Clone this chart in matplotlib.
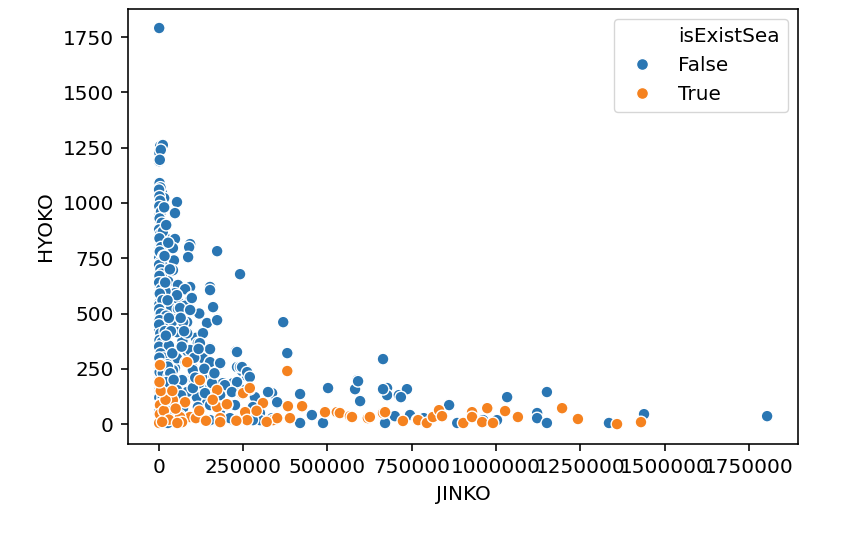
import matplotlib
matplotlib.use("Agg")
import matplotlib.pyplot as plt
from matplotlib.lines import Line2D
import numpy as np

# population (JINKO) / elevation (HYOKO), isExistSea == False
jinko_false = [
    1200, 1500, 4000, 12000, 2000, 6000, 1000, 3000, 2500, 9500, 5000, 16000, 54000, 3500, 8000,
    48000, 1000, 1000, 6000, 3500, 2000, 18000, 48000, 6000, 11000, 93000, 90000, 173000, 42000, 2000,
    8000, 87000, 1000, 3000, 45000, 12000, 42000, 1500, 241000, 18000, 5000, 28000, 57000, 3500, 93000,
    152000, 78000, 12000, 48000, 1000, 98000, 25000, 93000, 6000, 60000, 1000, 78000, 161000, 35000, 4000,
    57000, 10000, 1000, 120000, 173000, 42000, 3000, 84000, 369000, 143000, 6000, 48000, 1500, 57000, 87000,
    131000, 25000, 2000, 110000, 116000, 24000, 70000, 152000, 84000, 229000, 381000, 8000, 57000, 665000, 113000,
    131000, 1500, 45000, 99000, 152000, 182000, 232000, 247000, 262000, 3500, 78000, 143000, 190000, 220000, 3500,
    57000, 101000, 152000, 199000, 241000, 330000, 419000, 502000, 589000, 582000, 597000, 677000, 677000, 712000, 736000,
    745000, 786000, 861000, 885000, 962000, 1003000, 1033000, 1122000, 1122000, 1151000, 1151000, 1335000, 1439000, 1804000, 336000,
    591000, 665000, 718000, 351000, 419000, 454000, 487000, 700000, 671000, 13000, 113000, 143000, 182000, 300000, 300000,
    220000, 152000, 24000, 351000, 270000, 262000, 241000, 152000, 190000, 220000, 122000, 72000, 84000, 152000, 1000,
    1000, 101000, 48000,
    1000, 54000, 98000, 152000, 1000, 63000, 93000, 161000, 3500, 39000, 72000, 143000, 173000, 1000, 54000,
    84000, 131000, 24000, 122000, 93000, 152000, 232000, 54000, 1000, 42000, 101000, 152000, 182000, 247000, 262000,
    270000, 3500, 69000, 128000, 158000, 196000, 232000, 3500, 54000, 101000, 137000, 182000, 217000, 285000, 324000,
    33000, 72000, 116000, 152000, 226000, 279000, 27000, 54000, 152000, 211000, 279000, 336000,
    800, 2000, 4000, 1500, 6500, 2500, 9000, 1000, 4500, 12000, 2000, 7000, 3000, 14000, 1000,
    5000, 9000, 2000, 15000, 1000, 7000, 20000, 3000, 11000, 1500, 6000, 22000, 2500, 13000, 1000,
    4500, 18000, 2000, 9000, 1000, 30000, 5000, 15000, 1500, 26000, 7000, 2500, 12000, 30000, 1000,
    20000, 8000, 35000, 1500, 12000, 45000, 5000, 25000, 1000, 10000, 38000, 62000, 90000, 2000,
    16000, 22000, 28000, 17000, 33000, 19000, 26000, 30000, 36000, 21000, 40000, 27000, 34000, 23000, 44000,
    65000, 75000, 68000, 80000, 105000, 66000, 108000, 135000, 118000, 165000,
]
hyoko_false = [
    1791, 1253, 1257, 1262, 1225, 1240, 1189, 1195, 1090, 1045, 1070, 1022, 1004, 977, 995,
    954, 940, 922, 905, 886, 865, 846, 837, 814, 830, 814, 800, 782, 796, 790,
    770, 755, 751, 730, 740, 715, 696, 700, 678, 665, 660, 645, 629, 620, 620,
    620, 610, 600, 592, 585, 574, 570, 561, 555, 548, 547, 535, 529, 525, 515,
    520, 495, 493, 500, 475, 475, 470, 461, 461, 457, 450, 430, 421, 421, 411,
    411, 400, 390, 390, 366, 366, 375, 344, 330, 330, 321, 340, 298, 294, 309,
    298, 260, 250, 253, 276, 271, 258, 240, 217, 210, 199, 203, 185, 185, 154,
    160, 163, 172, 172, 159, 145, 136, 163, 199, 158, 104, 163, 131, 131, 158,
    41, 27, 86, 5, 18, 18, 122, 50, 27, 5, 145, 5, 45, 36, 140,
    194, 158, 122, 95, 5, 41, 5, 36, 5, 109, 122, 95, 63, 50, 18,
    18, 14, 14, 99, 217, 240, 258, 276, 185, 185, 185, 199, 145, 163, 154,
    217, 253, 253,
    592, 583, 570, 606, 538, 525, 516, 529, 493, 461, 461, 457, 470, 425, 416,
    411, 411, 366, 366, 335, 339, 326, 298, 253, 244, 244, 280, 276, 258, 235,
    213, 208, 199, 213, 185, 176, 190, 145, 154, 163, 140, 131, 145, 122, 145,
    77, 72, 77, 86, 86, 77, 5, 18, 18, 27, 18, 27,
    1060, 1030, 1010, 985, 960, 930, 910, 880, 860, 870, 840, 800, 780, 760, 720,
    700, 680, 670, 640, 640, 610, 600, 590, 560, 520, 500, 490, 470, 440, 450,
    410, 420, 380, 370, 350, 355, 320, 300, 300, 270, 270, 235, 230, 220, 185,
    180, 165, 150, 120, 120, 115, 90, 60, 55, 30, 30, 40, 30, 10,
    980, 900, 820, 760, 700, 640, 560, 480, 420, 400, 320, 260, 230, 190, 200,
    480, 420, 350, 280, 300, 130, 210, 250, 340, 230,
]

# isExistSea == True
jinko_true = [
    3500, 381000, 9500, 78000, 202000, 247000, 256000, 270000, 3500, 113000, 93000, 173000, 84000, 122000, 173000,
    309000, 63000, 182000, 42000, 3500, 202000, 256000, 383000, 425000, 493000, 528000, 537000, 567000, 573000, 620000,
    626000, 665000, 671000, 766000, 724000, 389000, 339000, 262000, 182000, 110000, 69000, 1000, 351000, 250000, 270000,
    769000, 795000, 813000, 831000, 840000, 903000, 929000, 929000, 959000, 974000, 991000, 1027000, 1065000, 1196000, 1243000,
    1359000, 1430000, 3000, 15000, 30000, 50000, 20000, 6000, 40000, 55000, 120000, 140000, 160000, 230000, 290000,
    320000, 2000, 10000,
]
hyoko_true = [
    267, 240, 77, 99, 86, 136, 50, 158, 9, 27, 32, 77, 280, 199, 154,
    95, 32, 27, 109, 86, 90, 54, 81, 81, 54, 54, 50, 36, 32, 27,
    32, 50, 54, 18, 14, 27, 18, 18, 9, 27, 9, 5, 27, 140, 163,
    18, 5, 32, 63, 36, 5, 54, 32, 9, 72, 5, 59, 32, 72, 23,
    0, 9, 45, 60, 20, 70, 110, 150, 150, 5, 60, 15, 110, 15, 60,
    10, 190, 10,
]

BLUE, ORANGE = "#2a76b3", "#f5821f"
S = 1.44  # scale from 72dpi points (retina notebook) to this 100dpi canvas

fig = plt.figure(figsize=(8.66, 5.36), dpi=100)
ax = fig.add_axes([128 / 866, 92 / 536, 670 / 866, 435 / 536])

x = np.array(jinko_false + jinko_true)
y = np.array(hyoko_false + hyoko_true)
c = [BLUE] * len(jinko_false) + [ORANGE] * len(jinko_true)
ax.scatter(x, y, c=c, s=72, edgecolors="white", linewidths=0.7 * S, zorder=2)

ax.set_xticks([0, 250000, 500000, 750000, 1000000, 1250000, 1500000, 1750000])
ax.set_yticks([0, 250, 500, 750, 1000, 1250, 1500, 1750])
ax.ticklabel_format(style="plain", axis="both", useOffset=False)
ax.set_xlim(-91300, 1895600)
ax.set_ylim(-90, 1877)
ax.tick_params(labelsize=10 * S, length=3.5 * S, width=0.8 * S, pad=3.5 * S)
for sp in ax.spines.values():
    sp.set_linewidth(0.8 * S)
ax.set_xlabel("JINKO", fontsize=10 * S, labelpad=4 * S)
ax.set_ylabel("HYOKO", fontsize=10 * S, labelpad=4 * S)

handles = [
    Line2D([], [], linestyle="none", marker=None),
    Line2D([], [], linestyle="none", marker="o", color=BLUE, markeredgecolor="white", markersize=6 * S),
    Line2D([], [], linestyle="none", marker="o", color=ORANGE, markeredgecolor="white", markersize=6 * S),
]
ax.legend(handles, ["isExistSea", "False", "True"], loc="upper right", fontsize=10 * S,
          borderpad=0.4, handletextpad=0.8, labelspacing=0.5, borderaxespad=0.5)

fig.savefig("out.png", dpi=100)
